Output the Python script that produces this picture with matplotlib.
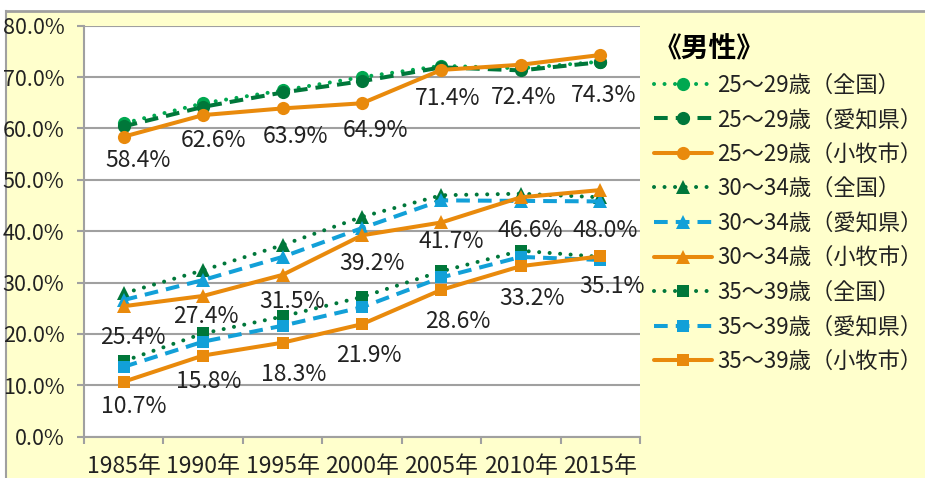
import matplotlib
matplotlib.use('Agg')
import matplotlib.pyplot as plt
from matplotlib.patches import Rectangle
from matplotlib.lines import Line2D
from matplotlib.ticker import FuncFormatter, FixedLocator

plt.rcParams['font.family'] = ['Noto Sans CJK JP', 'DejaVu Sans']

years = ['1985年', '1990年', '1995年', '2000年', '2005年', '2010年', '2015年']

# 25~29歳
m25_zenkoku = [61.0, 64.9, 67.4, 70.0, 72.2, 71.7, 73.0]
m25_aichi = [60.4, 64.2, 67.0, 69.2, 71.9, 71.3, 72.9]
m25_komaki = [58.4, 62.6, 63.9, 64.9, 71.4, 72.4, 74.3]
# 30~34歳
m30_zenkoku = [27.9, 32.4, 37.3, 42.8, 47.0, 47.3, 46.6]
m30_aichi = [26.6, 30.5, 35.0, 40.6, 46.0, 45.9, 45.8]
m30_komaki = [25.4, 27.4, 31.5, 39.2, 41.7, 46.6, 48.0]
# 35~39歳
m35_zenkoku = [14.7, 20.1, 23.4, 27.2, 32.2, 36.2, 35.0]
m35_aichi = [13.6, 18.5, 21.6, 25.2, 31.0, 35.0, 34.4]
m35_komaki = [10.7, 15.8, 18.3, 21.9, 28.6, 33.2, 35.1]

# label offsets (pixels) for the 小牧市 values
off25 = [(14, -24), (10, -25), (13, -28), (14, -27), (6, -29), (3, -33), (3, -41)]
off30 = [(9, -31), (3, -21), (9, -27), (10, -28), (10, -19), (9, -33), (5, -40)]
off35 = [(10, -25), (6, -26), (11, -32), (7, -31), (16, -32), (11, -32), (12, -30)]

GREEN_L = '#00A850'
GREEN_D = '#00773A'
ORANGE = '#E98A0C'
BLUE = '#12A0D8'
BG = '#FFFFCC'
GRID = '#A0A0A0'

W, H = 925, 478
fig = plt.figure(figsize=(W / 100, H / 100), dpi=100, facecolor='white')
fig.patches.append(Rectangle((6 / W, 0), 1 - 6 / W, 1 - 11 / H, transform=fig.transFigure,
                             facecolor=BG, edgecolor='none', zorder=-10))
fig.lines.append(Line2D([6 / W, 1], [1 - 11 / H, 1 - 11 / H], transform=fig.transFigure,
                        color=GRID, lw=2, zorder=-9))
fig.lines.append(Line2D([6 / W, 6 / W], [0, 1 - 11 / H], transform=fig.transFigure,
                        color=GRID, lw=1.5, zorder=-9))

ax = fig.add_axes([84 / W, (H - 436.7) / H, (640 - 84) / W, (436.7 - 25.7) / H])
ax.set_facecolor('white')

x = list(range(len(years)))
dot = (0, (0.01, 2.6))
dash = (0, (3.4, 2.0))

series = [
    (m25_zenkoku, '25～29歳（全国）', GREEN_L, dot, 'o', 9.5),
    (m25_aichi, '25～29歳（愛知県）', GREEN_D, dash, 'o', 9.5),
    (m25_komaki, '25～29歳（小牧市）', ORANGE, '-', 'o', 9.5),
    (m30_zenkoku, '30～34歳（全国）', GREEN_D, dot, '^', 10.5),
    (m30_aichi, '30～34歳（愛知県）', BLUE, dash, '^', 10.5),
    (m30_komaki, '30～34歳（小牧市）', ORANGE, '-', '^', 10.5),
    (m35_zenkoku, '35～39歳（全国）', GREEN_D, dot, 's', 9),
    (m35_aichi, '35～39歳（愛知県）', BLUE, dash, 's', 9),
    (m35_komaki, '35～39歳（小牧市）', ORANGE, '-', 's', 9),
]

for vals, lab, col, ls, mk, ms in series:
    ax.plot(x, vals, color=col, linestyle=ls, lw=2.9, marker=mk, markersize=ms,
            markeredgewidth=0, label=lab, dash_capstyle='round' if ls == dot else 'butt',
            solid_capstyle='round', clip_on=False, zorder=3)

for vals, offs in [(m25_komaki, off25), (m30_komaki, off30), (m35_komaki, off35)]:
    for i, v in enumerate(vals):
        ax.annotate(f'{v:.1f}%', (i, v), xytext=offs[i], textcoords='offset pixels',
                    ha='center', va='center', fontsize=16.5, color='#222222', zorder=4)

ax.set_xlim(-0.5, len(years) - 0.5)
ax.set_ylim(0, 80)
ax.set_yticks(range(0, 81, 10))
ax.yaxis.set_major_formatter(FuncFormatter(lambda v, p: f'{v:.1f}%'))
ax.set_xticks(x)
ax.set_xticklabels(years)
ax.xaxis.set_minor_locator(FixedLocator([i - 0.5 for i in range(len(years) + 1)]))
ax.tick_params(axis='x', which='major', length=0, pad=13, labelsize=16.5, labelcolor='#222222')
ax.tick_params(axis='x', which='minor', length=5, width=1.5, color=GRID)
ax.tick_params(axis='y', length=5, width=1.5, color=GRID, pad=9, labelsize=15.5,
               labelcolor='#222222')
ax.grid(axis='y', color=GRID, lw=1.5)
ax.set_axisbelow(True)
for s in ['top', 'right']:
    ax.spines[s].set_visible(False)
for s in ['left', 'bottom']:
    ax.spines[s].set_color(GRID)
    ax.spines[s].set_linewidth(1.5)

leg = fig.legend(loc='upper left', bbox_to_anchor=(654 / W, 1 - 34 / H), frameon=False,
                 title='《男性》', title_fontproperties={'size': 20, 'weight': 'bold'},
                 fontsize=16, handlelength=2.6, handletextpad=0.25, labelspacing=0.52,
                 alignment='left', borderaxespad=0, borderpad=0)
for t in leg.get_texts():
    t.set_color('#222222')

fig.savefig('out.png', dpi=100, facecolor=fig.get_facecolor())
